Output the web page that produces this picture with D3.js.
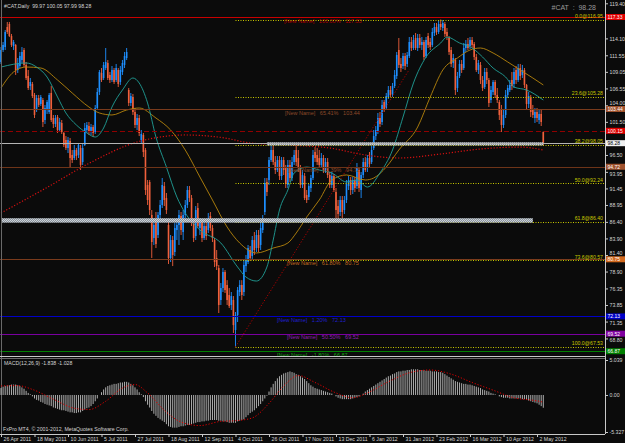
<!DOCTYPE html>
<html>
<head>
<meta charset="utf-8">
<script src="https://cdn.jsdelivr.net/npm/d3@7"></script>
<style>
body { margin: 0; background: #0b0b0b; }
text { font-family: "Liberation Sans", Arial, sans-serif; }
</style>
</head>
<body>
<svg id="chart" width="625" height="443"></svg>
<script>
// daily bars, [open, high, low, close]
var bars = [
[110.54,112.80,110.24,112.35],[112.35,113.56,112.05,113.11],[112.80,115.37,112.35,115.07],[115.82,116.58,114.77,115.07],
[116.28,116.58,114.31,114.46],[114.46,114.77,112.80,113.11],[112.95,113.86,112.35,113.56],[113.11,113.26,108.58,109.33],
[109.33,111.14,108.88,110.39],[109.93,112.05,109.63,111.44],[110.84,112.80,110.39,112.05],[112.35,112.65,109.78,110.09],
[110.09,110.54,107.82,108.12],[108.42,109.33,106.31,106.61],[106.91,108.12,106.31,107.52],[107.22,107.52,105.10,105.40],
[105.56,105.86,102.08,102.54],[103.29,105.56,102.99,105.10],[105.10,105.56,103.74,104.05],[104.20,105.56,103.89,105.25],
[104.80,105.10,100.72,101.48],[101.78,104.05,101.18,103.59],[103.29,104.80,102.69,104.50],[102.99,105.86,102.69,105.56],
[105.86,106.91,101.48,101.78],[102.08,102.54,100.57,101.18],[101.18,102.54,100.72,102.08],[102.23,102.54,99.82,100.27],
[100.27,102.08,99.97,101.48],[101.33,101.78,99.67,99.97],[99.82,99.97,97.70,98.01],[98.76,99.36,97.25,97.55],
[97.55,99.21,96.80,98.76],[98.61,99.06,94.68,96.04],[96.50,97.25,95.29,95.74],[96.04,98.01,95.74,97.25],
[97.25,97.55,95.74,96.34],[96.50,98.31,96.04,98.01],[97.55,98.01,94.23,94.99],[95.44,98.16,94.99,97.55],
[98.01,101.33,97.85,100.57],[100.27,101.48,99.82,101.03],[100.87,101.48,99.52,99.97],[99.97,101.18,99.52,100.72],
[100.72,101.03,99.21,99.82],[99.97,104.05,99.67,103.59],[103.59,106.61,103.29,106.01],[106.01,109.33,105.56,109.03],
[108.88,109.63,107.52,107.82],[108.12,110.54,107.82,110.09],[109.63,112.65,109.33,110.54],[110.39,110.84,107.82,108.12],
[108.58,109.03,107.37,107.82],[107.82,109.93,107.52,109.33],[109.33,109.63,107.22,107.52],[107.82,110.24,107.52,109.63],
[109.33,109.63,106.76,107.22],[107.52,109.93,107.07,109.33],[109.03,110.84,108.58,110.39],[110.09,112.05,109.63,111.44],
[111.14,112.65,110.84,112.05],[106.31,106.61,103.89,104.35],[104.35,105.86,103.89,105.40],[105.25,105.71,102.54,102.99],
[102.99,103.59,100.57,101.03],[101.03,102.69,100.27,102.08],[102.08,102.54,99.36,99.82],[98.76,100.27,98.31,99.67],
[99.52,99.82,96.19,96.95],[97.25,97.55,90.46,91.21],[91.97,92.72,88.95,89.70],[92.42,92.72,87.44,88.19],
[87.44,88.19,80.94,83.36],[83.96,86.98,82.91,85.93],[86.68,87.89,82.45,83.06],[84.42,87.89,83.96,87.44],
[87.44,89.70,86.68,88.95],[88.95,93.02,88.49,91.97],[91.81,92.42,88.79,89.70],[90.00,90.76,87.59,88.19],
[85.93,86.68,80.04,80.94],[80.94,84.42,80.34,83.66],[83.66,84.26,79.73,81.40],[81.85,86.23,81.24,85.47],
[85.17,86.98,83.66,85.93],[85.93,88.19,82.91,87.44],[87.28,87.89,84.42,85.17],[84.87,88.19,83.66,87.44],
[87.44,89.70,86.68,88.95],[88.95,91.81,88.49,91.21],[91.21,91.81,89.40,90.00],[90.00,90.46,85.77,86.38],
[86.38,86.98,83.36,83.96],[84.26,88.79,83.66,88.19],[88.49,89.25,85.47,85.77],[85.47,86.98,84.42,86.38],
[86.38,86.68,83.36,83.96],[83.96,86.38,83.66,85.77],[85.77,86.38,83.66,84.26],[85.17,87.74,84.72,86.98],
[87.28,87.89,85.02,85.47],[85.47,85.93,83.36,83.96],[83.66,83.96,79.58,80.34],[80.94,82.15,79.13,79.73],
[79.43,79.89,72.64,73.85],[74.60,77.17,73.85,76.41],[76.41,79.43,75.81,78.83],[78.83,79.13,75.66,76.11],
[76.87,77.60,73.85,74.60],[75.36,76.41,73.39,73.69],[73.85,75.81,73.09,75.20],[74.60,75.20,69.62,70.82],
[70.07,72.79,67.54,72.34],[72.34,76.56,71.28,76.11],[75.81,77.60,75.20,76.87],[76.87,77.60,74.60,75.36],
[75.81,80.64,75.20,79.89],[79.73,81.40,78.83,80.64],[80.34,82.91,80.04,82.45],[82.15,82.75,80.49,80.94],
[81.24,84.26,80.64,83.66],[83.66,84.87,81.40,82.15],[82.45,85.17,81.85,84.42],[84.42,85.17,81.85,82.45],
[82.91,86.38,82.15,85.47],[85.17,87.44,84.72,86.98],[87.89,93.02,87.44,92.27],[92.42,93.02,90.30,90.91],
[92.72,96.19,91.97,95.74],[95.74,98.01,95.44,97.25],[97.25,98.01,94.99,95.44],[95.44,96.34,93.63,94.23],
[94.23,96.34,93.93,95.74],[95.74,96.34,92.72,93.32],[93.32,96.19,92.72,95.74],[95.74,96.19,93.48,94.23],
[94.53,94.99,91.51,92.12],[91.97,95.74,91.51,94.99],[94.99,95.74,92.42,93.02],[93.02,96.19,92.57,95.44],
[95.44,97.25,94.99,96.50],[97.25,97.85,94.83,95.44],[96.04,97.25,93.93,94.53],[94.53,94.99,91.51,91.97],
[91.97,94.23,91.51,93.48],[93.32,93.78,89.70,90.00],[90.46,91.21,89.25,89.70],[90.15,92.12,89.70,91.81],
[91.51,93.48,90.91,93.02],[93.02,97.25,92.72,96.50],[96.95,97.70,95.44,96.04],[96.50,97.55,94.99,95.44],
[96.04,97.25,94.53,94.99],[94.99,96.80,94.53,96.04],[96.04,96.50,93.78,94.23],[94.23,96.04,93.78,95.44],
[95.44,96.04,93.02,93.48],[93.48,93.93,91.51,91.97],[91.97,93.93,91.51,93.32],[93.32,93.63,90.91,91.21],
[90.91,91.51,86.68,88.19],[88.79,89.70,86.68,87.59],[87.89,90.30,87.28,89.70],[89.70,90.30,86.98,87.89],
[88.19,90.30,87.59,89.70],[89.70,92.72,89.25,92.12],[91.81,93.32,91.21,92.72],[92.72,93.17,90.46,91.21],
[91.21,93.17,90.61,92.72],[92.72,93.17,90.91,91.51],[91.81,95.29,91.36,94.68],[94.23,94.68,90.91,91.51],
[91.21,93.93,90.00,93.48],[93.48,96.04,93.02,95.44],[95.44,96.19,93.93,94.23],[94.53,96.50,93.93,96.04],
[96.04,96.95,94.68,95.14],[95.44,97.85,95.14,97.25],[97.55,100.27,97.25,99.36],[99.36,100.87,98.76,100.27],
[99.97,102.84,99.67,102.08],[102.08,102.99,100.72,101.18],[101.48,104.80,101.03,104.05],[104.50,104.80,102.99,103.29],
[103.59,105.86,103.29,105.40],[105.25,106.91,104.95,106.31],[106.31,106.91,105.25,105.56],[105.71,107.37,105.25,106.91],
[106.91,109.33,106.61,108.58],[108.42,112.05,107.97,111.60],[112.35,114.16,109.63,110.09],[110.24,111.14,109.03,109.63],
[109.93,111.90,109.48,111.44],[111.44,111.90,109.33,109.93],[110.24,112.05,109.78,111.60],[111.44,114.31,111.14,113.56],
[113.56,114.31,112.20,112.65],[112.65,114.62,112.35,113.86],[114.16,114.92,112.35,112.65],[112.65,114.77,112.20,114.16],
[114.16,114.77,112.65,113.11],[113.11,114.31,112.35,113.56],[113.56,113.86,110.84,111.29],[111.44,114.31,111.14,113.86],
[114.46,114.92,112.65,113.11],[113.56,114.16,112.35,112.80],[113.11,115.67,112.80,115.07],[114.92,116.43,114.46,115.82],
[115.82,116.43,114.62,115.07],[115.07,116.88,114.77,116.28],[116.28,116.95,115.37,115.82],[115.67,116.88,115.22,116.43],
[116.28,116.58,114.31,114.77],[115.07,115.67,113.86,114.46],[114.16,114.46,111.60,112.05],[112.35,112.80,109.78,110.24],
[110.39,111.75,109.63,111.14],[110.84,111.14,105.56,106.31],[106.61,109.03,106.01,108.42],[108.42,110.84,108.12,110.24],
[110.24,110.84,108.88,109.33],[109.63,113.41,109.33,112.65],[112.65,113.86,112.05,113.26],[113.26,114.16,112.35,112.65],
[112.95,114.31,112.50,113.86],[113.86,114.31,112.65,113.11],[113.26,113.56,110.84,111.29],[111.29,111.75,109.03,109.33],
[109.33,110.84,108.73,110.39],[110.09,110.54,107.22,107.82],[107.82,108.42,106.16,106.61],[106.76,109.63,106.46,109.03],
[109.03,109.63,107.22,107.82],[107.82,108.12,103.74,104.35],[104.80,106.91,104.35,106.31],[106.01,107.82,105.56,107.52],
[107.52,107.82,105.10,105.56],[105.56,106.61,104.35,104.80],[104.50,104.80,101.78,102.54],[103.29,104.05,99.97,101.03],
[101.03,103.29,100.57,102.54],[102.54,106.31,102.08,105.56],[105.56,107.07,105.10,106.61],[106.31,107.82,106.01,107.07],
[107.82,109.03,106.31,106.91],[107.22,109.63,106.61,109.03],[109.33,109.93,107.22,107.82],[107.82,110.24,107.52,109.63],
[109.63,110.24,107.82,108.42],[108.58,110.09,108.12,109.33],[109.33,109.63,106.61,107.07],[107.07,107.22,103.29,104.20],
[104.20,106.01,103.59,105.40],[105.10,105.56,102.23,102.99],[103.29,104.05,102.08,102.54],[102.08,103.59,101.33,102.99],
[102.99,103.59,101.48,102.08],[101.78,103.29,101.18,102.69],[102.69,103.29,100.87,101.48],[99.97,100.05,97.99,98.28]
];

// moving averages, [bar, price]
var fastMA = [[0,109.78],[12,110.39],[17,109.78],[22,108.27],[27,105.25],[31,102.84],[36,101.03],[41,99.82],[45,99.21],
[49,100.57],[53,103.74],[58,106.31],[63,108.12],[66,107.37],[70,104.35],[74,99.21],[79,94.68],[84,90.15],[88,87.74],
[95,85.17],[105,83.21],[113,79.58],[117,78.07],[122,77.47],[127,79.58],[130,83.66],[133,88.19],[137,91.21],[140,93.78],
[146,94.68],[152,94.23],[158,93.78],[165,92.42],[170,92.72],[175,91.66],[181,93.78],[187,97.25],[192,102.23],[197,107.37],
[203,111.29],[210,113.41],[213,114.31],[219,113.41],[225,112.65],[230,111.29],[235,109.63],[241,108.27],[245,106.76],
[251,106.31],[259,104.80]];
var slowMA = [[0,106.61],[6,109.03],[12,109.78],[19,109.63],[27,107.82],[34,105.86],[42,103.74],[47,102.84],[53,102.54],
[60,103.29],[66,103.59],[74,102.08],[81,100.27],[88,97.25],[95,93.17],[101,89.70],[108,85.62],[114,83.21],[122,81.70],
[130,82.45],[137,83.21],[141,84.72],[146,87.13],[152,89.70],[158,92.72],[165,93.48],[174,92.72],[178,93.02],[184,94.68],
[190,97.25],[199,100.72],[205,105.25],[211,109.33],[218,111.14],[224,112.35],[229,112.65],[235,111.90],[242,110.54],
[248,109.33],[254,108.12],[259,107.07]];
var longMA = [[0,87.74],[22,91.60],[43,95.40],[65,98.46],[76,99.21],[88,99.52],[107,99.06],[119,98.31],[138,98.01],
[157,97.55],[174,96.50],[190,96.04],[210,96.65],[229,97.40],[248,97.70],[259,97.25]];

// trend line from the October low
var trendFrom = [112, 67.54], trendTo = [195, 109.40];

// fibonacci retracement, anchored at the October low
var fibStart = 112;
var fibLevels = ["0.0", "23.6", "38.2", "50.0", "61.8", "73.6", "100.0"];
var fibPrices = [116.95, 105.28, 98.05, 92.24, 86.40, 80.57, 67.53];

// horizontal lines with their notes
var levelPrices = [117.33, 103.44, 100.15, 94.72, 80.75, 72.13, 69.52, 66.87];
var levelNotes = ["[New Name]   100.00%   117.33", "[New Name]   65.41%   103.44", "",
  "[New Name]   41.39%   94.72", "[New Name]   61.80%   80.75", "[New Name]   1.20%   72.13",
  "[New Name]   50.50%   69.52", "[New Name]   -1.80%   66.87"];

// shaded zones [fromBar, toBar, low, high]
var zones = [[127, 259, 97.95, 98.42], [0, 254, 86.28, 86.95]];

var lastPrice = 98.28;
var symbol = "#CAT";

var priceTicks = [119.40, 114.10, 111.55, 109.05, 106.55, 104.00, 101.50, 96.50, 93.95, 91.45, 88.95,
  86.40, 83.90, 81.40, 78.90, 76.35, 73.85, 71.35, 68.80];

var dateIdx = [0, 16, 32, 48, 64, 80, 96, 112, 128, 144, 160, 176, 192, 208, 224, 240, 256];
var dateLabels = ["26 Apr 2011", "18 May 2011", "10 Jun 2011", "5 Jul 2011", "27 Jul 2011", "18 Aug 2011",
  "12 Sep 2011", "4 Oct 2011", "26 Oct 2011", "17 Nov 2011", "13 Dec 2011", "6 Jan 2012", "31 Jan 2012",
  "23 Feb 2012", "16 Mar 2012", "10 Apr 2012", "2 May 2012"];

// MACD(12,26,9) main values per bar and signal line points
var macd = [
1.0,1.2,1.3,1.4,1.4,1.5,1.5,1.5,1.4,1.3, 1.1,0.9,0.6,0.3,0.1,-0.2,-0.5,-0.7,-0.8,-1.0,
-1.1,-1.3,-1.4,-1.5,-1.6,-1.8,-1.9,-2.0,-2.1,-2.2, -2.2,-2.3,-2.4,-2.5,-2.5,-2.6,-2.6,-2.5,-2.5,-2.3,
-2.1,-1.9,-1.8,-1.6,-1.3,-0.9,-0.5,0.0,0.4,0.8, 1.1,1.3,1.4,1.5,1.6,1.6,1.7,1.8,1.8,1.9,
1.9,1.8,1.6,1.4,1.1,0.8,0.4,0.1,-0.3,-0.9, -1.4,-1.8,-2.3,-2.7,-3.0,-3.3,-3.5,-3.7,-3.9,-4.2,
-4.5,-4.6,-4.7,-4.7,-4.7,-4.6,-4.5,-4.5,-4.4,-4.3, -4.3,-4.2,-4.1,-4.0,-3.9,-3.9,-3.8,-3.8,-3.7,-3.7,
-3.6,-3.6,-3.6,-3.6,-3.7,-3.7,-3.8,-3.8,-3.9,-4.0, -4.0,-4.0,-4.0,-3.8,-3.7,-3.6,-3.5,-3.2,-2.9,-2.6,
-2.4,-2.2,-1.9,-1.6,-1.3,-0.9,-0.5,-0.1,0.5,1.1, 1.6,2.0,2.4,2.7,2.9,3.1,3.2,3.3,3.4,3.3,
3.2,3.0,2.9,2.7,2.5,2.3,2.0,1.7,1.4,1.2, 1.0,0.9,0.8,0.7,0.6,0.5,0.4,0.3,0.2,0.0,
-0.2,-0.4,-0.5,-0.6,-0.6,-0.6,-0.6,-0.6,-0.5,-0.4, -0.3,-0.2,0.0,0.2,0.5,0.7,0.9,1.1,1.3,1.5,
1.7,1.9,2.1,2.3,2.5,2.7,2.8,3.0,3.1,3.3, 3.4,3.4,3.5,3.5,3.6,3.6,3.7,3.7,3.7,3.7,
3.6,3.6,3.6,3.5,3.5,3.5,3.4,3.4,3.4,3.3, 3.3,3.2,3.0,2.8,2.6,2.4,2.2,2.0,1.9,1.8,
1.7,1.6,1.6,1.5,1.5,1.4,1.3,1.2,1.1,1.0, 0.8,0.7,0.6,0.5,0.3,0.2,0.1,0.0,-0.2,-0.3,
-0.4,-0.4,-0.4,-0.5,-0.5,-0.5,-0.5,-0.5,-0.5,-0.6, -0.6,-0.7,-0.8,-0.9,-1.0,-1.1,-1.2,-1.4,-1.6,-1.838];
var macdSignal = [[0,1.3],[8,1.35],[15,0.8],[25,-0.6],[35,-1.9],[42,-2.1],[50,-0.9],[58,1.0],[64,1.5],[70,0.3],
[78,-2.2],[86,-3.9],[95,-4.4],[105,-3.8],[112,-3.7],[120,-3.3],[128,-1.2],[135,1.3],[142,2.8],[150,1.8],[160,0.3],
[168,-0.4],[175,0.3],[185,1.9],[195,3.2],[205,3.6],[215,3.0],[225,1.8],[235,0.7],[245,-0.4],[255,-0.8],[259,-1.028]];
var macdRange = [-5.327, 5.039];

var svg = d3.select("#chart");
var bull = "#1e8fff", bear = "#f0603c", grid = "#c8c8c8", fibColor = "#c8c800", ink = "#d4d4d4";
var plotRight = 605, mainBottom = 356, macdTop = 358, macdBottom = 434;
var fs = 5.2;

svg.append("rect").attr("width", 625).attr("height", 443).attr("fill", "#0b0b0b");

var x = d3.scaleLinear().domain([0, bars.length - 1]).range([1, 543.3]);
var y = d3.scaleLinear().domain([66.30, 119.40]).range([355, 3.3]);
var ym = d3.scaleLinear().domain(macdRange).range([432, 360]);

var defs = svg.append("defs");
defs.append("clipPath").attr("id", "clipMain").append("rect")
    .attr("x", 0).attr("y", 0).attr("width", plotRight).attr("height", mainBottom);
defs.append("clipPath").attr("id", "clipMacd").append("rect")
    .attr("x", 0).attr("y", macdTop).attr("width", plotRight).attr("height", macdBottom - macdTop);
var pat = defs.append("pattern").attr("id", "zonePat").attr("width", 2).attr("height", 2)
    .attr("patternUnits", "userSpaceOnUse");
pat.append("rect").attr("width", 2).attr("height", 2).attr("fill", "#8a939c");
pat.append("rect").attr("width", 1).attr("height", 1).attr("fill", "#ccd2d8");
pat.append("rect").attr("x", 1).attr("y", 1).attr("width", 1).attr("height", 1).attr("fill", "#ccd2d8");

var main = svg.append("g").attr("clip-path", "url(#clipMain)");

// candles
main.selectAll("line.wick").data(bars).enter().append("line")
    .attr("class", "wick")
    .attr("x1", function (d, i) { return x(i); })
    .attr("x2", function (d, i) { return x(i); })
    .attr("y1", function (d) { return y(d[1]); })
    .attr("y2", function (d) { return y(d[2]); })
    .attr("stroke", function (d) { return d[3] >= d[0] ? bull : bear; })
    .attr("stroke-width", 0.9);
main.selectAll("rect.body").data(bars).enter().append("rect")
    .attr("class", "body")
    .attr("x", function (d, i) { return x(i) - 0.8; })
    .attr("width", 1.6)
    .attr("y", function (d) { return y(Math.max(d[0], d[3])); })
    .attr("height", function (d) { return Math.max(0.8, Math.abs(y(d[0]) - y(d[3]))); })
    .attr("fill", function (d) { return d[3] >= d[0] ? bull : bear; });

// moving averages
var maLine = d3.line().curve(d3.curveMonotoneX)
    .x(function (d) { return x(d[0]); })
    .y(function (d) { return y(d[1]); });
main.append("path").datum(longMA).attr("d", maLine).attr("fill", "none")
    .attr("stroke", "#d81010").attr("stroke-width", 1.2).attr("stroke-dasharray", "1.2,1.8");
main.append("path").datum(slowMA).attr("d", maLine).attr("fill", "none")
    .attr("stroke", "#b8860b").attr("stroke-width", 0.9);
main.append("path").datum(fastMA).attr("d", maLine).attr("fill", "none")
    .attr("stroke", "#20a098").attr("stroke-width", 0.9);

// trend line
main.append("line")
    .attr("x1", x(trendFrom[0])).attr("y1", y(trendFrom[1]))
    .attr("x2", x(trendTo[0])).attr("y2", y(trendTo[1]))
    .attr("stroke", "#b00000").attr("stroke-width", 1).attr("stroke-dasharray", "1.2,1.8");

// horizontal lines
var levelStyle = [
  { c: "#c80000", dash: null, tx: 284, note: "#b00000", box: "#e00000", boxText: "#ffffff" },
  { c: "#7a3b1c", dash: null, tx: 285, note: "#8b4a2a", box: "#a0522d", boxText: "#ffffff" },
  { c: "#900000", dash: "5,3", tx: 0, note: "#900000", box: "#e00000", boxText: "#ffffff" },
  { c: "#6e3418", dash: null, tx: 288, note: "#8b4a2a", box: "#a0522d", boxText: "#ffffff" },
  { c: "#7a3b1c", dash: null, tx: 287, note: "#c06a20", box: "#d2691e", boxText: "#ffffff" },
  { c: "#0000c8", dash: null, tx: 277, note: "#2020d0", box: "#0000c8", boxText: "#ffffff" },
  { c: "#7a00a0", dash: null, tx: 287, note: "#9020b0", box: "#8000a0", boxText: "#ffffff" },
  { c: "#008000", dash: null, tx: 277, note: "#10a010", box: "#008000", boxText: "#ffffff" }
];
levelPrices.forEach(function (p, k) {
  var s = levelStyle[k];
  var ln = main.append("line").attr("x1", 0).attr("x2", plotRight)
      .attr("y1", Math.round(y(p)) + 0.5).attr("y2", Math.round(y(p)) + 0.5)
      .attr("stroke", s.c).attr("stroke-width", k === 2 ? 1.2 : 1);
  if (s.dash) ln.attr("stroke-dasharray", s.dash);
  if (levelNotes[k]) {
    main.append("text").attr("x", s.tx).attr("y", y(p) + 5.5)
        .attr("font-size", 5.5).attr("fill", s.note).attr("xml:space", "preserve")
        .text(levelNotes[k]);
  }
});

// fibonacci
fibPrices.forEach(function (p, k) {
  main.append("line").attr("x1", x(fibStart)).attr("x2", plotRight)
      .attr("y1", Math.round(y(p)) + 0.5).attr("y2", Math.round(y(p)) + 0.5)
      .attr("stroke", fibColor).attr("stroke-width", 1).attr("stroke-dasharray", "1,1.5");
  main.append("text").attr("x", plotRight - 2).attr("y", y(p) - 1.5)
      .attr("text-anchor", "end").attr("font-size", fs).attr("fill", fibColor)
      .text(fibLevels[k] + "@" + p.toFixed(2));
});

// zones
main.selectAll("rect.zone").data(zones).enter().append("rect")
    .attr("class", "zone")
    .attr("x", function (d) { return x(d[0]); })
    .attr("width", function (d) { return x(d[1]) - x(d[0]); })
    .attr("y", function (d) { return y(d[3]); })
    .attr("height", function (d) { return y(d[2]) - y(d[3]); })
    .attr("fill", "url(#zonePat)");

// bid line
main.append("line").attr("x1", 0).attr("x2", plotRight)
    .attr("y1", Math.round(y(lastPrice)) + 0.5).attr("y2", Math.round(y(lastPrice)) + 0.5)
    .attr("stroke", "#b4b4b4").attr("stroke-width", 1);

// titles
svg.append("text").attr("x", 4).attr("y", 8).attr("font-size", fs).attr("fill", ink)
    .attr("xml:space", "preserve")
    .text(symbol + ",Daily  " + bars[bars.length - 1].map(function (v) { return v.toFixed(2); }).join(" "));
svg.append("text").attr("x", 596).attr("y", 10).attr("text-anchor", "end").attr("font-size", 7)
    .attr("fill", "#9a9a9a").attr("xml:space", "preserve")
    .text(symbol + "  :  " + lastPrice.toFixed(2));

// price axis
var boxPrices = levelPrices.concat([lastPrice]);
var yAxis = d3.axisRight(y).tickValues(priceTicks).tickSize(3).tickPadding(1.5)
    .tickFormat(d3.format(".2f"));
var ya = svg.append("g").attr("transform", "translate(" + plotRight + ",0)").call(yAxis);
ya.select(".domain").remove();
ya.selectAll("line").attr("stroke", grid);
ya.selectAll("text").attr("fill", ink).attr("font-size", fs).attr("font-family", "Liberation Sans")
    .attr("dy", function (t) {
      // nudge labels that sit right next to a price box
      var shift = 0;
      boxPrices.forEach(function (b) {
        var dpx = y(t) - y(b);
        if (Math.abs(dpx) < 6.5) shift = (dpx < 0 ? -1 : 1) * (6.5 - Math.abs(dpx));
      });
      return (1.8 + shift) + "px";
    });

// price boxes on the axis
function priceBox(p, fill, color, label) {
  var yy = y(p);
  svg.append("rect").attr("x", plotRight + 1).attr("y", yy - 3).attr("width", 19).attr("height", 6)
      .attr("fill", fill);
  svg.append("text").attr("x", plotRight + 2.5).attr("y", yy + 1.9).attr("font-size", 5)
      .attr("fill", color).text(label);
}
levelPrices.forEach(function (p, k) {
  priceBox(p, levelStyle[k].box, levelStyle[k].boxText, p.toFixed(2));
});
priceBox(lastPrice, "#f0f0f0", "#000000", lastPrice.toFixed(2));

// frame
svg.append("line").attr("x1", plotRight + 0.5).attr("x2", plotRight + 0.5).attr("y1", 0).attr("y2", macdBottom)
    .attr("stroke", grid);
svg.append("line").attr("x1", 1.5).attr("x2", 1.5).attr("y1", 0).attr("y2", macdBottom)
    .attr("stroke", "#6a6a6a");
svg.append("line").attr("x1", 0).attr("x2", plotRight).attr("y1", mainBottom + 0.5).attr("y2", mainBottom + 0.5)
    .attr("stroke", grid);
svg.append("line").attr("x1", 0).attr("x2", plotRight).attr("y1", mainBottom + 2.5).attr("y2", mainBottom + 2.5)
    .attr("stroke", "#6a6a6a");

// MACD panel
var mg = svg.append("g").attr("clip-path", "url(#clipMacd)");
mg.selectAll("line.hist").data(macd).enter().append("line")
    .attr("class", "hist")
    .attr("x1", function (d, i) { return x(i); })
    .attr("x2", function (d, i) { return x(i); })
    .attr("y1", ym(0))
    .attr("y2", function (d) { return ym(d); })
    .attr("stroke", "#c0c0c0").attr("stroke-width", 0.9);
mg.append("path").datum(macdSignal)
    .attr("d", d3.line().curve(d3.curveMonotoneX)
        .x(function (d) { return x(d[0]); })
        .y(function (d) { return ym(d[1]); }))
    .attr("fill", "none").attr("stroke", "#e00000").attr("stroke-width", 1).attr("stroke-dasharray", "1.2,1.8");

svg.append("text").attr("x", 4).attr("y", 365).attr("font-size", fs).attr("fill", ink)
    .text("MACD(12,26,9) " + macd[macd.length - 1].toFixed(3) + " " + macdSignal[macdSignal.length - 1][1].toFixed(3));

var mAxis = d3.axisRight(ym).tickValues([macdRange[1], 0, macdRange[0]]).tickSize(3).tickPadding(1.5)
    .tickFormat(function (d) { return d === 0 ? "0.00" : d.toFixed(3); });
var ma = svg.append("g").attr("transform", "translate(" + plotRight + ",0)").call(mAxis);
ma.select(".domain").remove();
ma.selectAll("line").attr("stroke", grid);
ma.selectAll("text").attr("fill", ink).attr("font-size", fs).attr("font-family", "Liberation Sans");

svg.append("text").attr("x", 3).attr("y", 431).attr("font-size", fs).attr("fill", ink)
    .text("FxPro MT4, \u00a9 2001-2012, MetaQuotes Software Corp.");

// date axis
var xAxis = d3.axisBottom(x).tickValues(dateIdx).tickSize(3).tickPadding(0)
    .tickFormat(function (d, i) { return dateLabels[i]; });
var xa = svg.append("g").attr("transform", "translate(0," + macdBottom + ")").call(xAxis);
xa.select(".domain").attr("stroke", grid).attr("d", "M0,0.5H" + plotRight);
xa.selectAll("line").attr("stroke", grid);
xa.selectAll("text").attr("fill", ink).attr("font-size", fs).attr("font-family", "Liberation Sans")
    .attr("text-anchor", "start").attr("dx", 2);
</script>
</body>
</html>
